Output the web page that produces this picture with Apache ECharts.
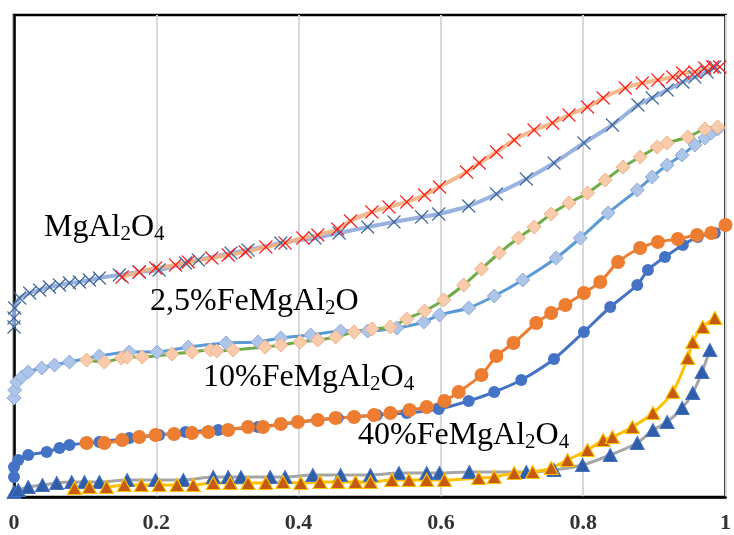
<!DOCTYPE html>
<html><head><meta charset="utf-8">
<script src="https://cdn.jsdelivr.net/npm/echarts@6/dist/echarts.min.js"></script>
<style>html,body{margin:0;padding:0;background:#fff}#c{width:734px;height:535px}</style>
</head><body><div id="c"></div>
<script>
// x: relative pressure P/P0 ; y: adsorbed amount (arbitrary units)
const xTickLabels = ['0', '0.2', '0.4', '0.6', '0.8', '1'];

const mgAds = [[0,170],[0,179],[0.001,189],[0.008,199],[0.022,204],[0.036,207],[0.050,210],[0.064,212],[0.078,214],[0.092,215],[0.106,217],[0.120,219],[0.148,222],[0.176,225],[0.204,227],[0.241,234],[0.259,237],[0.305,244],[0.329,247],[0.375,254],[0.423,259],[0.457,264],[0.497,270],[0.534,275],[0.573,280],[0.597,283],[0.639,291],[0.678,303],[0.720,318],[0.759,334],[0.801,354],[0.841,372],[0.877,392],[0.897,399],[0.918,407],[0.940,415],[0.957,420],[0.974,425],[0.985,430]];
const mgDes = [[0.152,220],[0.176,225],[0.199,229],[0.227,232],[0.245,235],[0.278,239],[0.301,242],[0.325,245],[0.354,250],[0.381,254],[0.406,259],[0.427,262],[0.455,268],[0.473,276],[0.503,285],[0.527,290],[0.552,295],[0.577,302],[0.598,310],[0.636,325],[0.654,334],[0.678,345],[0.703,357],[0.731,367],[0.757,374],[0.780,382],[0.806,390],[0.828,399],[0.859,409],[0.883,414],[0.905,417],[0.926,420],[0.940,424],[0.957,425],[0.971,429],[0.982,430],[0.992,430]];

const fe25Ads = [[0,99],[0.001,107],[0.004,115],[0.011,120],[0.020,125],[0.039,129],[0.057,132],[0.078,135],[0.120,141],[0.162,145],[0.201,145],[0.245,150],[0.298,154],[0.343,155],[0.375,159],[0.417,162],[0.459,166],[0.497,166],[0.538,169],[0.576,175],[0.598,182],[0.639,189],[0.675,201],[0.715,217],[0.762,239],[0.796,259],[0.835,284],[0.876,307],[0.897,320],[0.918,332],[0.939,342],[0.957,352],[0.971,359],[0.980,364],[0.989,368]];
const fe25Des = [[0.102,137],[0.127,135],[0.151,139],[0.159,140],[0.180,140],[0.222,143],[0.250,145],[0.276,147],[0.285,146],[0.308,147],[0.353,150],[0.375,152],[0.402,155],[0.427,157],[0.452,160],[0.478,165],[0.503,168],[0.529,170],[0.552,178],[0.577,186],[0.604,197],[0.632,212],[0.657,228],[0.682,244],[0.709,259],[0.731,270],[0.755,283],[0.780,294],[0.806,304],[0.831,317],[0.856,330],[0.880,340],[0.904,350],[0.918,354],[0.947,360],[0.971,368],[0.989,370]];

const fe10Ads = [[0,20],[0,30],[0.006,37],[0.020,42],[0.046,45],[0.064,49],[0.078,52],[0.120,55],[0.162,59],[0.204,62],[0.241,65],[0.287,67],[0.343,70],[0.399,75],[0.455,79],[0.510,82],[0.552,84],[0.597,88],[0.639,96],[0.675,105],[0.713,117],[0.759,138],[0.801,165],[0.838,190],[0.876,212],[0.891,227],[0.915,240],[0.940,252],[0.961,260],[0.985,264]];
const fe10Des = [[0.102,54],[0.127,54],[0.152,57],[0.176,60],[0.199,62],[0.225,63],[0.250,64],[0.273,65],[0.301,67],[0.329,70],[0.350,70],[0.375,73],[0.399,75],[0.427,77],[0.452,79],[0.478,80],[0.506,82],[0.529,84],[0.556,87],[0.580,90],[0.605,96],[0.625,105],[0.657,122],[0.678,141],[0.702,154],[0.734,174],[0.755,184],[0.775,192],[0.801,204],[0.824,215],[0.849,235],[0.880,249],[0.905,255],[0.933,258],[0.960,262],[0.980,264],[1.0,272]];

const fe40Ads = [[0,5],[0.006,7],[0.020,10],[0.040,12],[0.060,14],[0.081,15],[0.099,15],[0.120,15],[0.159,17],[0.199,17],[0.238,17],[0.280,20],[0.301,20],[0.319,20],[0.360,20],[0.381,20],[0.420,22],[0.459,22],[0.501,22],[0.541,24],[0.580,24],[0.598,24],[0.640,25],[0.720,25],[0.759,27],[0.799,32],[0.838,42],[0.876,54],[0.898,67],[0.918,75],[0.939,89],[0.954,104],[0.967,125],[0.978,147]];
const fe40Des = [[0.085,9],[0.106,10],[0.130,10],[0.155,12],[0.179,12],[0.204,12],[0.229,12],[0.252,12],[0.280,14],[0.304,14],[0.329,14],[0.354,14],[0.378,15],[0.403,14],[0.430,15],[0.455,15],[0.480,15],[0.501,15],[0.531,17],[0.555,17],[0.580,17],[0.605,17],[0.653,19],[0.675,20],[0.703,24],[0.729,25],[0.755,29],[0.778,37],[0.806,47],[0.828,57],[0.841,60],[0.869,70],[0.898,84],[0.926,105],[0.947,139],[0.954,155],[0.968,170],[0.985,179]];

const crossPath = 'path://M0,0L10,10M10,0L0,10';
function mk(name, data, o) {
  return {
    name, type: 'line', data, smooth: 0.25, animation: false,
    symbol: o.symbol, symbolSize: o.size,
    lineStyle: { color: o.line, width: o.lw, opacity: o.lop || 1 },
    itemStyle: { color: o.fill, borderColor: o.border, borderWidth: o.bw, opacity: 1 },
    emphasis: { disabled: true }
  };
}

const chart = echarts.init(document.getElementById('c'), null, { renderer: 'canvas' });
const serif = '"Liberation Serif", "Times New Roman", serif';
const labStyle = {
  a: { fontFamily: serif, fontSize: 32, lineHeight: 34, fill: '#000' },
  s: { fontFamily: serif, fontSize: 21, lineHeight: 34, verticalAlign: 'bottom', fill: '#000' }
};
function lab(left, top, text) {
  return { type: 'text', left, top, z: 100, style: { text, rich: labStyle, font: '32px ' + serif, fill: '#000' } };
}

chart.setOption({
  animation: false,
  backgroundColor: '#fff',
  grid: { left: 14, right: 3, top: 15, bottom: 38, show: true, borderColor: '#000', borderWidth: 2.5, containLabel: false },
  xAxis: {
    type: 'value', min: 0, max: 1, interval: 0.2,
    axisLine: { show: true, lineStyle: { color: '#000', width: 2.5 } },
    axisTick: { show: false },
    splitLine: { show: true, lineStyle: { color: '#D9D9D9', width: 2 } },
    axisLabel: {
      margin: 15, color: '#333', fontFamily: serif, fontWeight: 'bold', fontSize: 22,
      showMinLabel: true, showMaxLabel: true,
      formatter: v => xTickLabels[Math.round(v / 0.2)]
    }
  },
  yAxis: {
    type: 'value', min: 0, max: 482,
    axisLine: { show: true, lineStyle: { color: '#000', width: 2.5 } },
    axisTick: { show: false }, axisLabel: { show: false }, splitLine: { show: false }
  },
  series: [
    mk('MgAl2O4 ads', mgAds, { symbol: crossPath, size: 13, line: '#8FAADC', lw: 4, lop: 0.9, fill: 'rgba(0,0,0,0)', border: '#3D6698', bw: 1.1 }),
    mk('MgAl2O4 des', mgDes, { symbol: crossPath, size: 13, line: '#F4B183', lw: 4, lop: 0.9, fill: 'rgba(0,0,0,0)', border: '#FF1A1A', bw: 1.1 }),
    mk('2,5% ads', fe25Ads, { symbol: 'diamond', size: 14, line: '#5B9BD5', lw: 3, fill: '#AEC5EA', border: '#8FAADC', bw: 1 }),
    mk('2,5% des', fe25Des, { symbol: 'diamond', size: 14, line: '#70AD47', lw: 3, fill: '#F8CBAD', border: '#F4B183', bw: 1 }),
    mk('10% ads', fe10Ads, { symbol: 'circle', size: 12, line: '#4472C4', lw: 3, fill: '#4472C4', border: '#4472C4', bw: 0 }),
    mk('10% des', fe10Des, { symbol: 'circle', size: 14, line: '#ED7D31', lw: 3, fill: '#ED7D31', border: '#ED7D31', bw: 0 }),
    mk('40% ads', fe40Ads, { symbol: 'triangle', size: [14, 13], line: '#A5A5A5', lw: 3, fill: '#2F5DA8', border: '#4472C4', bw: 1 }),
    mk('40% des', fe40Des, { symbol: 'triangle', size: [14, 13], line: '#FFC000', lw: 3, fill: '#C55A11', border: '#FFC000', bw: 1.2 })
  ],
  graphic: [
    lab(44, 212, '{a|MgAl}{s|2}{a|O}{s|4}'),
    lab(150, 286, '{a|2,5%FeMgAl}{s|2}{a|O}'),
    lab(203, 362, '{a|10%FeMgAl}{s|2}{a|O}{s|4}'),
    lab(358, 420, '{a|40%FeMgAl}{s|2}{a|O}{s|4}')
  ]
});
</script></body></html>
